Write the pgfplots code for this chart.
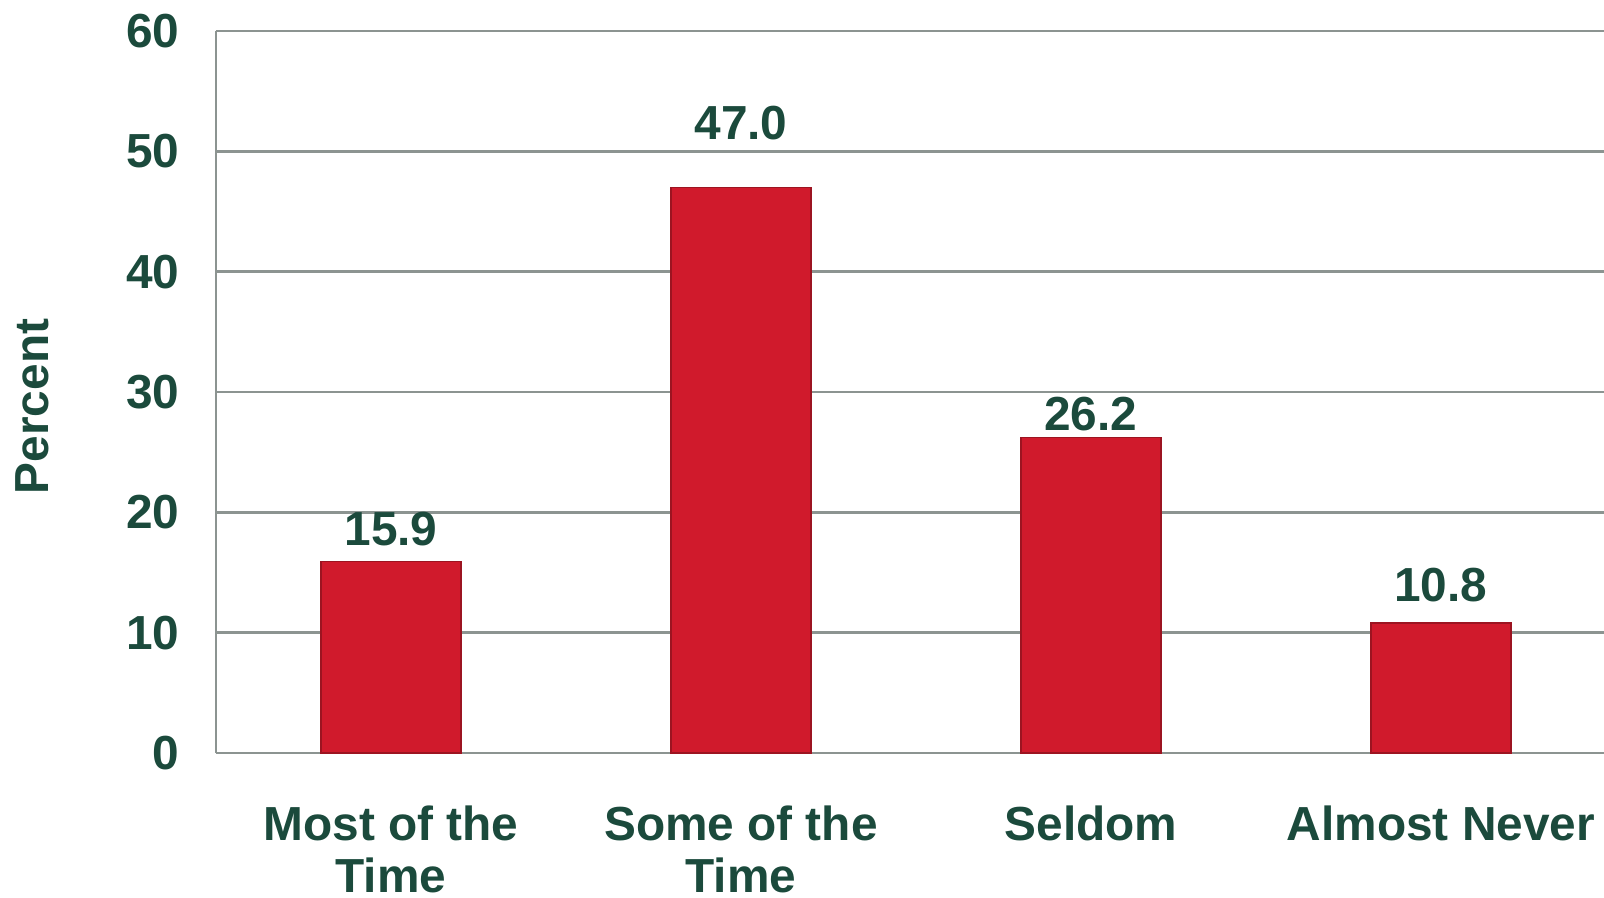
\documentclass[border=0pt]{standalone}
\usepackage{pgfplots}
\pgfplotsset{compat=1.18}
\usepackage{pgfplotstable}
\usepackage{fontspec}
\setmainfont{Liberation Sans}

\definecolor{txtgreen}{HTML}{1B4A3C}
\definecolor{barred}{HTML}{D01A2C}
\definecolor{gridgray}{HTML}{8C9491}

% x, percent, label offset above bar (cm)
\pgfplotstableread{
x  y     off
0  15.9  0.33
1  47.0  0.64
2  26.2  0.24
3  10.8  0.38
}\freqdata

\begin{document}
\begin{tikzpicture}[font=\fontsize{13.6}{15}\selectfont\bfseries]
\begin{axis}[
    scale only axis,
    width=13.88cm, height=7.22cm,
    xmin=-0.5, xmax=3.466,
    ymin=0, ymax=60,
    ytick={0,10,...,60},
    xtick={0,1,2,3},
    xticklabels={Most of the\\Time, Some of the\\Time, Seldom, Almost Never},
    axis x line=bottom, axis y line=left,
    axis line style={gridgray, line width=0.7pt, -},
    ymajorgrids,
    major grid style={gridgray, line width=0.7pt},
    major tick length=0pt,
    tick label style={txtgreen},
    /pgf/number format/assume math mode=true,
    yticklabel style={anchor=east, xshift=-0.24cm},
    xticklabel style={anchor=north, align=center, yshift=-0.40cm},
    every axis y label/.style={at={(axis description cs:-0.132,0.48)}, rotate=90, anchor=center},
    ylabel={Percent},
    ylabel style={txtgreen},
    clip=false,
]
\addplot[ybar, bar width=1.40cm, fill=barred, draw=barred!75!black, line width=0.4pt,
    visualization depends on={\thisrow{off} \as \off},
    nodes near coords,
    nodes near coords style={txtgreen, anchor=center, yshift=\off cm, /pgf/number format/.cd, fixed, fixed zerofill, precision=1, assume math mode=true},
    ] table[x=x, y=y] {\freqdata};
\end{axis}
\pgfresetboundingbox
\useasboundingbox (-2.16cm,-1.44cm) rectangle (13.88cm,7.53cm);
\end{tikzpicture}
\end{document}
